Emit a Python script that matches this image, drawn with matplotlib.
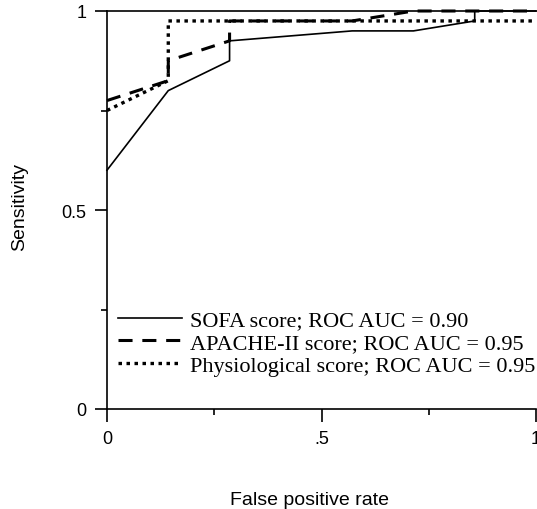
import matplotlib.pyplot as plt
from matplotlib.ticker import FixedLocator

# ROC curve points
sofa_fpr = [0, 1/7, 2/7, 2/7, 4/7, 5/7, 6/7, 6/7, 1]
sofa_tpr = [0.6, 0.8, 0.875, 0.925, 0.95, 0.95, 0.975, 1.0, 1.0]

apache_fpr = [0, 1/7, 1/7, 2/7, 2/7, 4/7, 5/7, 1]
apache_tpr = [0.775, 0.825, 0.875, 0.925, 0.975, 0.975, 1.0, 1.0]

phys_fpr = [0, 1/7, 1/7, 1]
phys_tpr = [0.75, 0.825, 0.975, 0.975]

labels = ['SOFA score; ROC AUC = 0.90',
          'APACHE-II score; ROC AUC = 0.95',
          'Physiological score; ROC AUC = 0.95']

x_ticks = [0, 0.5, 1]
x_ticklabels = ['0', '.5', '1']
y_ticks = [0, 0.5, 1]
y_ticklabels = ['0', '0.5', '1']

plt.rcParams['font.family'] = 'Liberation Sans'

fig = plt.figure(figsize=(5.37, 5.10), dpi=100)
ax = fig.add_axes([107/537, 100/510, 429/537, 398/510])

ax.plot(sofa_fpr, sofa_tpr, color='black', linewidth=1.2, clip_on=False,
        label=labels[0])
ax.plot(apache_fpr, apache_tpr, color='black', linewidth=2.2,
        linestyle=(0, (4.6, 3.2)), dash_capstyle='butt', clip_on=False,
        label=labels[1])
ax.plot(phys_fpr, phys_tpr, color='black', linewidth=2.4,
        linestyle=(0, (1.05, 1.35)), dash_capstyle='butt', clip_on=False,
        label=labels[2])

ax.set_xlim(0, 1)
ax.set_ylim(0, 1)
ax.set_xticks(x_ticks)
ax.set_xticklabels(x_ticklabels)
ax.set_yticks(y_ticks)
ax.set_yticklabels(y_ticklabels)
ax.xaxis.set_minor_locator(FixedLocator([0.25, 0.75]))
ax.yaxis.set_minor_locator(FixedLocator([0.25, 0.75]))

ax.spines['right'].set_visible(False)
for s in ['left', 'bottom', 'top']:
    ax.spines[s].set_linewidth(1.2)
ax.tick_params(which='major', direction='out', length=9, width=1.2,
               labelsize=13, pad=6)
ax.tick_params(which='minor', direction='out', length=4.5, width=1.2)
ax.tick_params(top=False, right=False, which='both')

ax.set_xlabel('False positive rate', fontsize=14)
ax.set_ylabel('Sensitivity', fontsize=14)
ax.xaxis.set_label_coords(0.473, -0.206)
ax.yaxis.set_label_coords(-0.183, 0.51)

leg = ax.legend(loc='center left', bbox_to_anchor=(0.026, 0.166),
                frameon=False, borderpad=0, borderaxespad=0,
                handlelength=2.88, handletextpad=0.37, labelspacing=0.1,
                prop={'family': 'Liberation Serif', 'size': 16})

fig.savefig('out.png', dpi=100)
